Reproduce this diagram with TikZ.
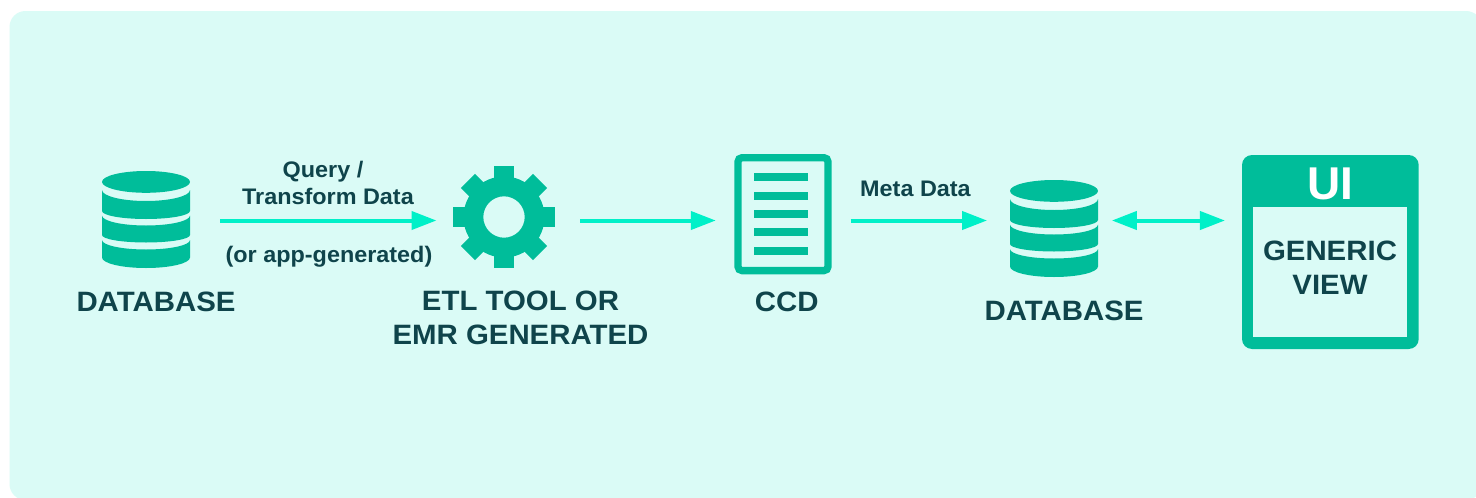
\documentclass[tikz,border=0pt]{standalone}
\usepackage{fontspec}
\setmainfont{Liberation Sans}
\newfontfamily\widebig[FakeStretch=1.05]{Liberation Sans}
\newfontfamily\widesmall[FakeStretch=1.04]{Liberation Sans}
\usetikzlibrary{arrows.meta}
\definecolor{panelc}{HTML}{DAFBF6}
\definecolor{iconc}{HTML}{00BD9A}
\definecolor{arrowc}{HTML}{00F0C8}
\definecolor{textc}{HTML}{0F444B}
\newcommand{\dbicon}[2]{%
  \begin{scope}[shift={(#1,#2)}]
    \fill[iconc] (44,10.9) ellipse [x radius=44, y radius=10.9];
    \fill[iconc] (0,19) arc[start angle=180,end angle=0,x radius=44,y radius=11] -- (88,40) arc[start angle=0,end angle=180,x radius=44,y radius=8] -- cycle;
    \fill[iconc] (0,44.5) arc[start angle=180,end angle=0,x radius=44,y radius=10] -- (88,64) arc[start angle=0,end angle=180,x radius=44,y radius=7.5] -- cycle;
    \fill[iconc] (0,69) arc[start angle=180,end angle=0,x radius=44,y radius=9.5] -- (88,86.5) arc[start angle=0,end angle=180,x radius=44,y radius=10.5] -- cycle;
  \end{scope}}
\tikzset{
  x=1pt,y=-1pt,
  iconbox/.style={inner sep=0pt,outer sep=0pt,minimum width=#1},
  flow/.style={draw=arrowc,line width=4pt,-{Triangle[length=25pt,width=18pt,fill=arrowc]}},
  flowboth/.style={draw=arrowc,line width=4pt,{Triangle[length=25pt,width=18pt,fill=arrowc]}-{Triangle[length=25pt,width=18pt,fill=arrowc]}},
  biglabel/.style={inner sep=0pt,text=textc,anchor=base,font=\fontsize{28}{33.5}\selectfont\widebig\bfseries},
  smalllabel/.style={inner sep=0pt,text=textc,anchor=base,font=\fontsize{22.5}{27}\selectfont\widesmall\bfseries},
}
\begin{document}
\begin{tikzpicture}
\useasboundingbox (0,0) rectangle (1476,498);
\clip (0,0) rectangle (1476,498);
\fill[white] (0,0) rectangle (1476,498);
\fill[panelc,rounded corners=16pt] (9.5,11) rectangle (1482,500);

% anchors for the icons
\node[iconbox=88.3pt,minimum height=97pt] (db1) at (146.2,220.5) {};
\node[iconbox=103pt,minimum height=103pt] (gear) at (504,220.5) {};
\node[iconbox=97.4pt,minimum height=120pt] (ccd) at (783,220.5) {};
\node[iconbox=88.3pt,minimum height=97pt] (db2) at (1054.2,220.5) {};
\node[iconbox=176.7pt,minimum height=194pt] (ui) at (1330.3,220.5) {};

\dbicon{102}{171}
\dbicon{1010}{180}

% gear
\begin{scope}[shift={(504,217)}]
  \foreach \a in {0,45,...,315}
    \fill[iconc,rotate=\a] (-10,-35) rectangle (10,-51);
  \fill[iconc,even odd rule] (0,0) circle[radius=40.5] (0,0) circle[radius=20.7];
\end{scope}

% CCD
\draw[iconc,line width=7.3pt,rounded corners=4pt] (738,157.7) rectangle (828,270.6);
\foreach \y in {173,192,210,228,247}
  \fill[iconc] (754,\y) rectangle (808,\y+8);

% UI
\fill[iconc,rounded corners=10pt] (1242,155) rectangle (1418.7,349);
\fill[panelc] (1253.3,206.7) rectangle (1407,337.3);

% connectors
\draw[flow,shorten <=24.5pt,shorten >=18.5pt] (gear) -- (ccd);
\draw[flow,shorten <=30pt,shorten >=16pt] (db1) -- (gear);
\draw[flow,shorten <=19pt,shorten >=23pt] (ccd) -- (db2);
\draw[flowboth,shorten <=13.5pt,shorten >=17pt] (db2) -- (ui);

% labels
\node[biglabel] (t1) at (156,311.7) {DATABASE};
\node[biglabel,align=center] (t2) at (520.5,344) {ETL TOOL OR\\EMR GENERATED};
\node[biglabel] (t3) at (786.7,311.7) {CCD};
\node[biglabel] (t4) at (1064,320.7) {DATABASE};
\node[inner sep=0pt,anchor=base,text=white,font=\fontsize{46}{50}\selectfont\bfseries] (t5) at (1330,199.3) {UI};
\node[biglabel,align=center] (t6) at (1330,294.3) {GENERIC\\VIEW};
\node[smalllabel] (l1) at (323,177.5) {Query /};
\node[smalllabel] (l2) at (328,204) {Transform Data};
\node[smalllabel] (l3) at (329,262.5) {(or app-generated)};
\node[smalllabel] (l4) at (915.5,196.5) {Meta Data};
\end{tikzpicture}
\end{document}
